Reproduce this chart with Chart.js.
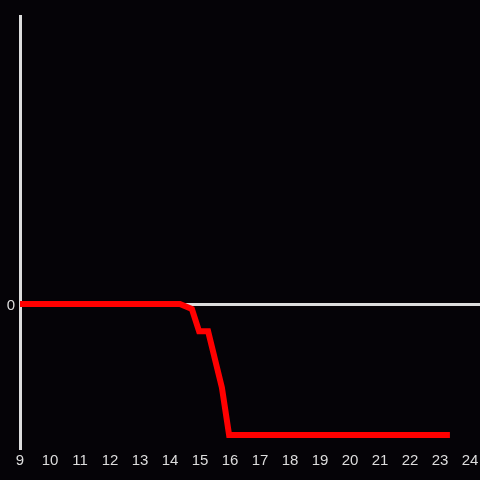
<!DOCTYPE html>
<html>
<head>
<meta charset="utf-8">
<script src="https://cdn.jsdelivr.net/npm/chart.js@4"></script>
<style>
  html, body { margin: 0; padding: 0; background: #050307; }
  #wrap { width: 480px; height: 480px; }
</style>
</head>
<body>
<div id="wrap"><canvas id="c"></canvas></div>
<script>
// hours of day and the measured value
const hours = [9, 14.33, 14.73, 14.97, 15.27, 15.73, 15.97, 23.33];
const values = [0, 0, -0.035, -0.19, -0.19, -0.58, -0.91, -0.91];
const xTicks = [9, 10, 11, 12, 13, 14, 15, 16, 17, 18, 19, 20, 21, 22, 23, 24];

const points = hours.map((h, i) => ({ x: h, y: values[i] }));

new Chart(document.getElementById("c"), {
    type: 'line',
    data: {
        datasets: [{
            data: points,
            borderColor: '#ff0000',
            borderWidth: 6,
            pointRadius: 0,
            tension: 0,
            borderJoinStyle: 'miter'
        }]
    },
    options: {
        responsive: true,
        maintainAspectRatio: false,
        animation: false,
        layout: { padding: { top: 16, left: 0, right: 0, bottom: 0 } },
        plugins: { legend: { display: false }, tooltip: { enabled: false } },
        scales: {
            x: {
                type: 'linear',
                min: 9,
                max: 24.333,
                afterBuildTicks: axis => { axis.ticks = xTicks.map(v => ({ value: v })); },
                afterFit: axis => { axis.height = 32; axis.paddingLeft = 0; axis.paddingRight = 0; },
                grid: { display: false, drawTicks: false },
                border: { display: false },
                ticks: { color: '#dddddd', font: { family: 'Liberation Sans', size: 15 }, padding: 4, maxRotation: 0, autoSkip: false }
            },
            y: {
                min: -1,
                max: 2,
                afterBuildTicks: axis => { axis.ticks = [{ value: 0 }]; },
                afterFit: axis => { axis.width = 20; axis.paddingTop = 0; axis.paddingBottom = 0; },
                grid: { color: '#dddddd', lineWidth: 3, drawTicks: false },
                border: { display: true, color: '#dddddd', width: 3 },
                ticks: { color: '#dddddd', font: { family: 'Liberation Sans', size: 15 }, padding: 5, labelOffset: 2 }
            }
        }
    }
});
</script>
</body>
</html>
